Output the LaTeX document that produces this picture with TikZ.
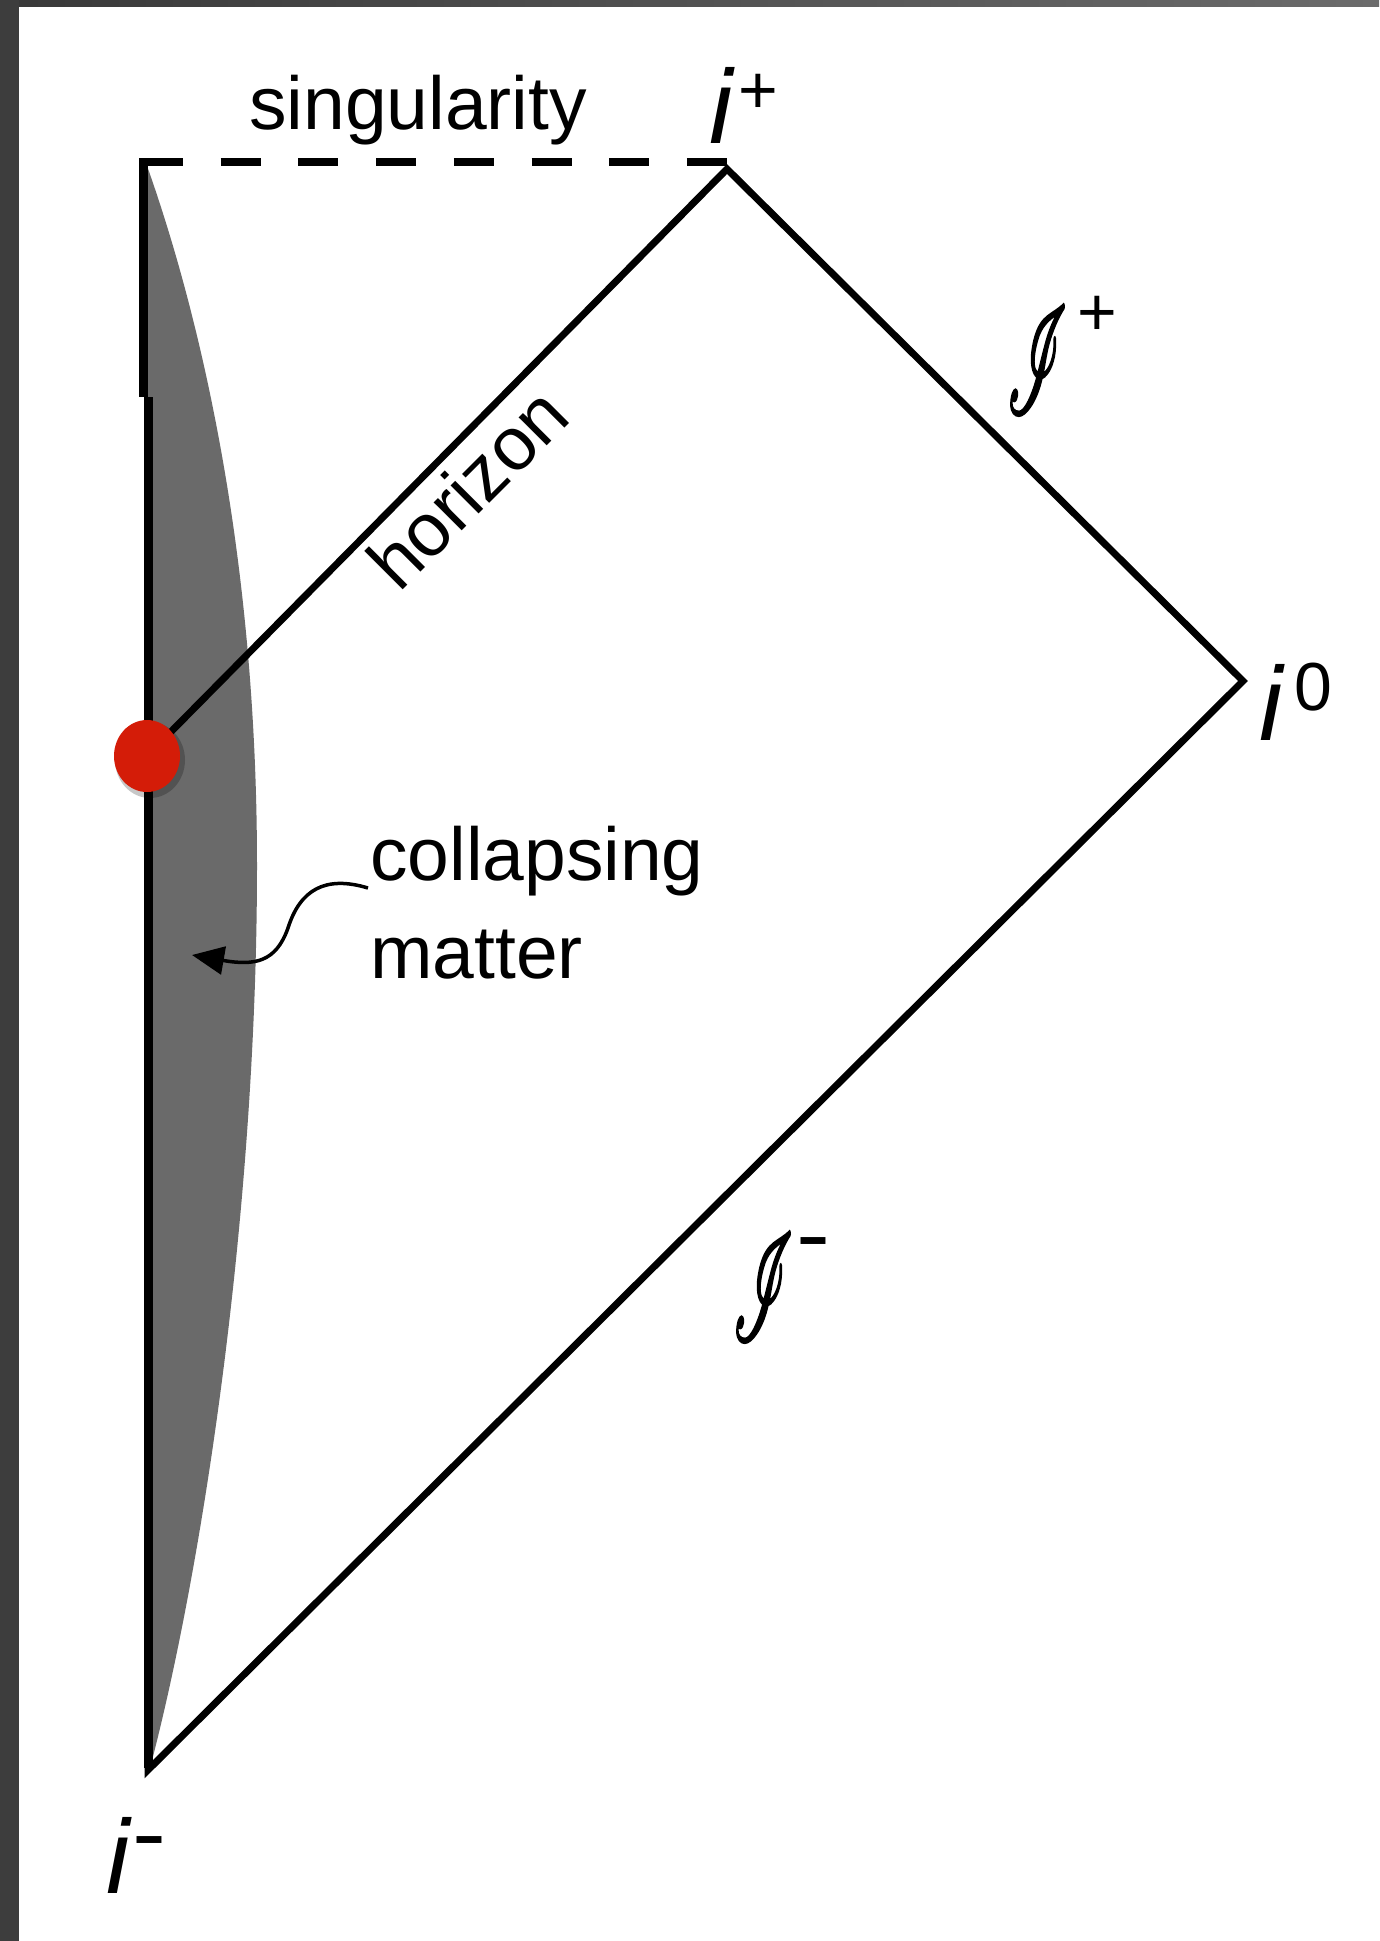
\documentclass[tikz,border=0pt]{standalone}
\usepackage{fontspec}
\setmainfont{Liberation Sans}
\usepackage{mathrsfs}
\usepackage{graphicx}
\usetikzlibrary{arrows.meta,shapes.geometric,calc}
\definecolor{dotred}{RGB}{212,28,8}
\definecolor{mattergray}{RGB}{106,106,106}
\newcommand\supdash{\scalebox{1.5}[1.3]{-}}
\newcommand\ipt[3]{{\fontsize{105}{105}\selectfont\itshape i}\kern#2pt\raisebox{#3pt}{\fontsize{68}{68}\selectfont #1}}
\newcommand\scrisym[3]{\resizebox{60pt}{106pt}{\special{pdf:literal 2 Tr 0.2 w}$\mathscr{I}$\special{pdf:literal 0 Tr}}\kern#2pt\raisebox{#3pt}{\fontsize{68}{68}\selectfont #1}}
\begin{document}
\begin{tikzpicture}[x=1pt,y=-1pt,
  edge/.style={line width=7pt, line join=miter, line cap=butt},
  vline/.style={line width=9pt, line cap=butt},
  sing/.style={line width=7.5pt, dash pattern=on 40pt off 37.7pt},
  lbl/.style={font=\fontsize{75}{97}\selectfont, inner sep=0pt},
  ptlbl/.style={inner sep=0pt, anchor=base west},
  scrilbl/.style={inner sep=0pt, anchor=base west},
  matter/.style={fill=mattergray},
  pointer/.style={line width=3.5pt, -{Triangle[length=32pt,width=28pt]}},
  reddot/.style={ellipse, fill=dotred, minimum width=66pt, minimum height=72pt, inner sep=0pt},
  dotshadow/.style={ellipse, fill=black, opacity=0.22, minimum width=70pt, minimum height=76pt, inner sep=0pt},
]
\useasboundingbox (0,0) rectangle (1379,1941);
\fill[white] (0,0) rectangle (1379,1941);
% frame
\shade[left color=black!78, right color=black!58] (0,0) rectangle (1379,6);
\fill[black!76] (0,0) rectangle (19,1941);

% key points
\coordinate (corner) at (143,162);
\coordinate (ipv) at (727,169);
\coordinate (i0v) at (1243,681);
\coordinate (imv) at (148,1770);
\coordinate (kink) at (148,397);
\coordinate (kinkup) at (143,397);
\coordinate (dotpos) at (147,756);

% collapsing matter
\fill[matter] (146,163) .. controls (202,320) and (257,560) .. (257,866)
  .. controls (257,1200) and (205,1560) .. (149,1772) -- (146,1772) -- cycle;

% singularity (dashed)
\draw[sing] (corner) -- (ipv |- corner);
% r = 0 line
\draw[vline] (143,158) -- (kinkup);
\draw[vline] (kink) -- (148,1768);
% horizon, scri+, scri-
\draw[edge] (dotpos) -- (ipv) -- (i0v) -- (imv) -- (kink);

% infalling point
\node[dotshadow] (rdshadow) at ($(dotpos)+(3,4)$) {};
\node[reddot] (rd) at (dotpos) {};

% labels
\node[lbl, anchor=base] (singlbl) at (418,129) {singularity};
\node[ptlbl] (lip) at (709,143) {\ipt{+}{6}{30}};
\node[ptlbl] (li0) at (1259,740) {\ipt{0}{12}{30}};
\node[ptlbl] (lim) at (106,1893) {\ipt{\supdash}{3}{30}};
\node[scrilbl] (lsp) at (1007,413) {\scrisym{+}{10}{78}};
\node[scrilbl] (lsm) at (733,1340) {\scrisym{\supdash}{3}{76}};
\node[lbl, rotate=45, anchor=base west] (hz) at (399,594) {horizon};
\node[lbl, anchor=base west] (cm1) at (370,880) {collapsing};
\node[lbl, anchor=base west] (cm2) at (370,978) {matter};

% pointer
\coordinate (astart) at (368,888);
\coordinate (atip) at (192,955);
\draw[pointer] (astart) .. controls (325,875) and (300,890) .. (288,928) .. controls (276,962) and (255,966) .. (atip);
\end{tikzpicture}
\end{document}
